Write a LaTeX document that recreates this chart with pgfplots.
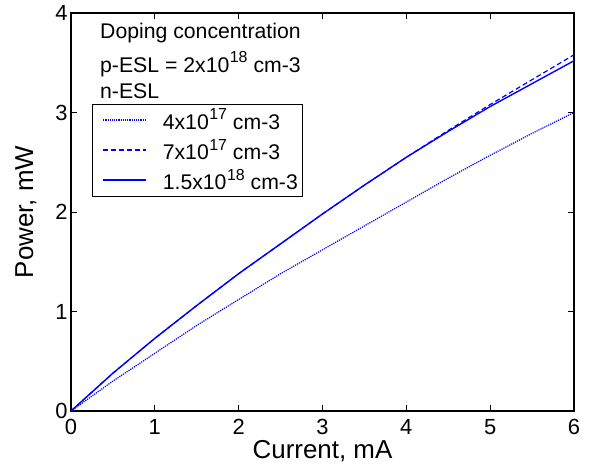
\documentclass[border=0pt]{standalone}
\usepackage{fontspec}
\setmainfont{Liberation Sans}
\usepackage{pgfplots}
\pgfplotsset{compat=1.18}
\usetikzlibrary{calc}
\definecolor{mblue}{RGB}{0,0,255}
\newcommand{\sups}[1]{\kern0.5bp\raisebox{0.45em}{\fontsize{16}{16}\selectfont #1}}

\pgfplotstableread{
x    y
0    0
0.25 0.19
0.5  0.38
1    0.73
1.5  1.06
2    1.38
2.5  1.68
3    1.98
3.5  2.27
4    2.55
4.5  2.81
5    3.06
5.5  3.29
6    3.52
}\solid
\pgfplotstableread{
x    y
0    0
0.25 0.19
0.5  0.38
1    0.73
1.5  1.06
2    1.38
2.5  1.68
3    1.98
3.5  2.27
4    2.55
4.5  2.82
5    3.08
5.5  3.33
6    3.58
}\dashedd
\pgfplotstableread{
x    y
0    0
0.5  0.30
1    0.58
1.5  0.86
2    1.12
2.5  1.38
3    1.62
3.5  1.86
4    2.10
4.5  2.34
5    2.57
5.5  2.79
6    3.00
}\dotted

\begin{document}
\begin{tikzpicture}
\begin{axis}[
  scale only axis,
  width=503bp, height=398bp,
  xmin=0, xmax=6, ymin=0, ymax=4,
  xtick={0,1,...,6}, ytick={0,1,...,4},
  tick align=inside, major tick length=6bp,
  axis line style={line width=1.1pt},
  tick style={line width=0.8pt, black},
  /pgf/number format/assume math mode=true,
  ticklabel style={font=\fontsize{22}{24}\selectfont},
  xticklabel style={yshift=-5bp},
  xlabel={Current, mA}, ylabel={Power, mW},
  label style={font=\fontsize{26}{28}\selectfont},
  xlabel style={yshift=1bp},
  ylabel style={yshift=12bp},
  legend cell align=left,
  legend style={at={(rel axis cs:0.042,0.772)}, anchor=north west,
    font=\fontsize{21.3}{23}\selectfont, draw=black, line width=0.6pt,
    inner xsep=1bp, inner ysep=3bp, row sep=4bp,
    nodes={inner xsep=3bp, inner ysep=2bp}},
  legend image code/.code={%
    \draw[#1, line width=2pt] (9bp,0bp) -- (52bp,0bp);
    \path (0bp,0bp) (65bp,0bp);},
]
\coordinate (bl) at (rel axis cs:0,0);
\coordinate (tr) at (rel axis cs:1,1);
\addplot[mblue, line width=1.2pt, densely dotted] table[x=x,y=y] {\dotted};
\addlegendentry{4x10\sups{17} cm-3}
\addplot[mblue, line width=1.2pt, dash pattern=on 5pt off 3pt] table[x=x,y=y] {\dashedd};
\addlegendentry{7x10\sups{17} cm-3}
\addplot[mblue, line width=1.4pt] table[x=x,y=y] {\solid};
\addlegendentry{1.5x10\sups{18} cm-3}
\end{axis}
\begin{scope}[every node/.style={anchor=west, inner sep=0pt, font=\fontsize{21.3}{23}\selectfont}]
\node at ($(bl)+(29bp,378bp)$) {Doping concentration};
\node at ($(bl)+(29bp,347bp)$) {p-ESL = 2x10\sups{18} cm-3};
\node at ($(bl)+(29bp,320bp)$) {n-ESL};
\end{scope}
\pgfresetboundingbox
\path ($(bl)+(-71bp,-54bp)$) rectangle ($(tr)+(15bp,13bp)$);
\end{tikzpicture}
\end{document}
